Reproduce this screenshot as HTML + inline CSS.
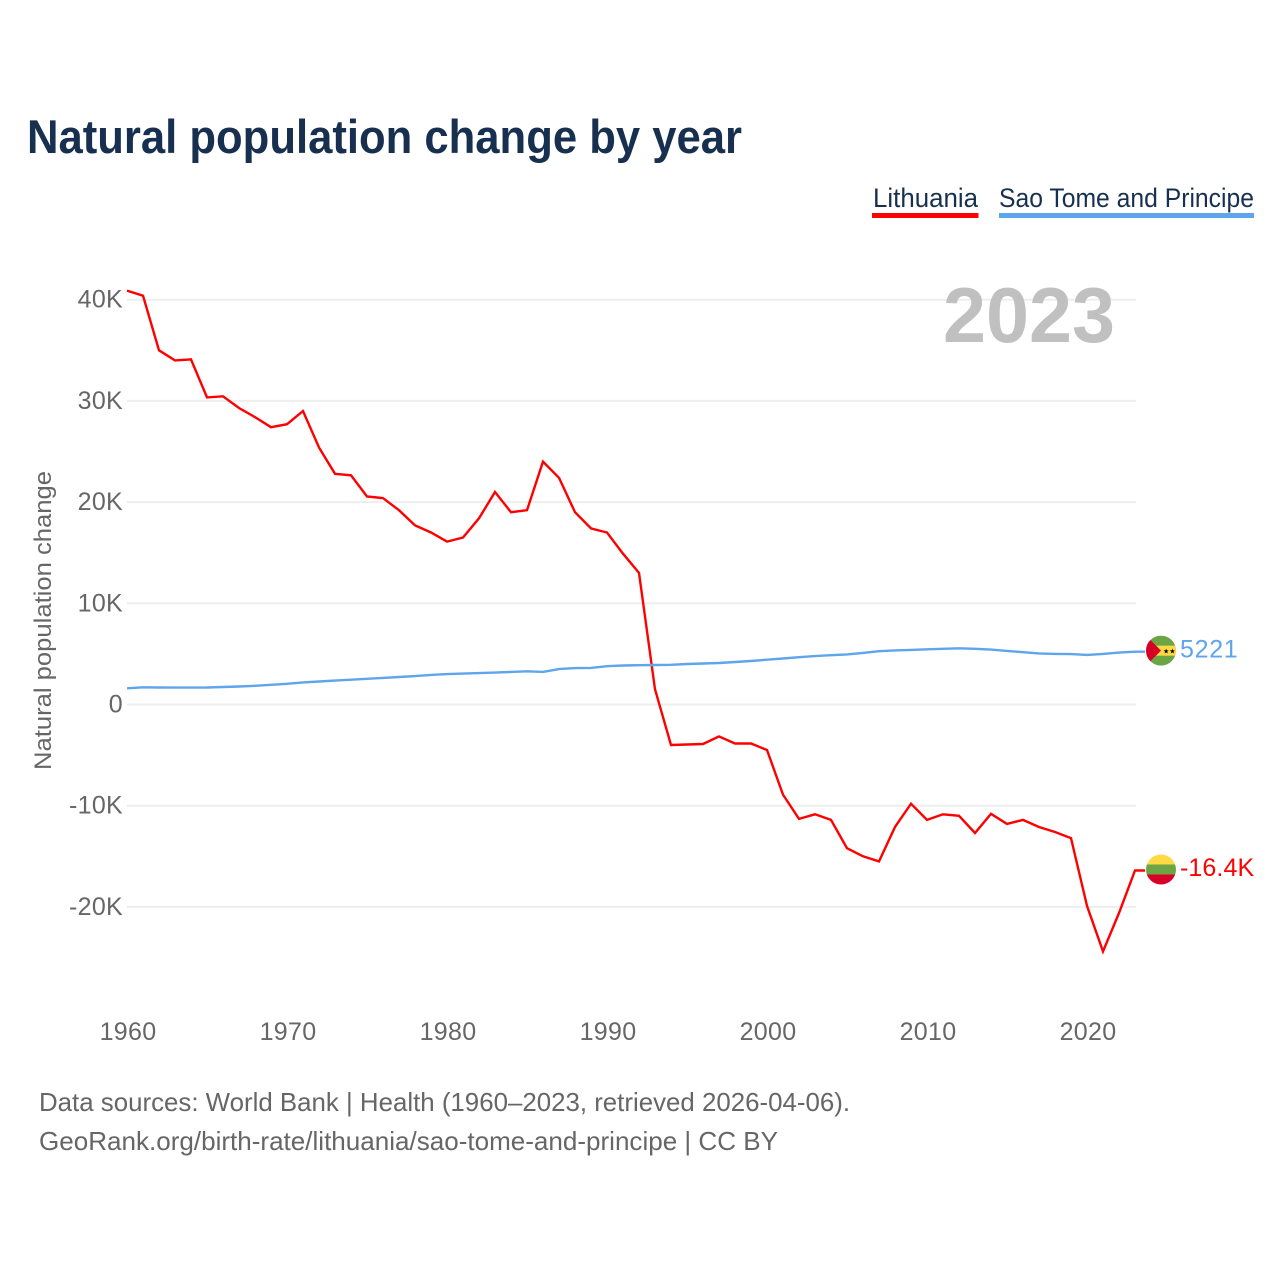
<!DOCTYPE html>
<html lang="en">
<head>
<meta charset="utf-8">
<title>Natural population change by year</title>
<style>
html,body{margin:0;padding:0;background:#fff;}
svg{display:block;font-family:"Liberation Sans",sans-serif;}
.tick{font-size:25px;fill:#666;letter-spacing:.3px;}
</style>
</head>
<body>
<svg id="chart" xmlns="http://www.w3.org/2000/svg" width="1280" height="1280" viewBox="0 0 1280 1280">
  <defs>
    <clipPath id="flag-clip"><circle cx="0" cy="0" r="15"></circle></clipPath>
  </defs>
  <rect x="0" y="0" width="1280" height="1280" fill="#fff"></rect>
  <text x="27" y="153" font-size="47" font-weight="700" fill="#18304f" textLength="715" lengthAdjust="spacingAndGlyphs">Natural population change by year</text>

  <g>
    <text x="873" y="207" font-size="27" fill="#18304f" textLength="105" lengthAdjust="spacingAndGlyphs">Lithuania</text>
    <rect x="872" y="213" width="106.500" height="5" fill="#ff0000"></rect>
  </g>
  <g>
    <text x="999" y="207" font-size="27" fill="#18304f" textLength="255" lengthAdjust="spacingAndGlyphs">Sao Tome and Principe</text>
    <rect x="999" y="213" width="255" height="5" fill="#5ea5ec"></rect>
  </g>

  <g id="grid"></g>
  <g id="y-ticks"></g>
  <g id="x-ticks"></g>

  <text x="1115" y="342" text-anchor="end" font-size="78" font-weight="700" fill="#c0c0c0" textLength="172" lengthAdjust="spacingAndGlyphs">2023</text>

  <text transform="translate(51 620.5) rotate(-90)" text-anchor="middle" font-size="24" fill="#666" textLength="299" lengthAdjust="spacingAndGlyphs">Natural population change</text>

  <g id="series"></g>

  <g id="flag-stp">
    <g clip-path="url(#flag-clip)">
      <rect x="-15" y="-15" width="30" height="30" fill="#6da544"></rect>
      <rect x="-15" y="-5" width="30" height="10" fill="#ffda44"></rect>
      <polygon points="-15,-15 -15,15 0,0" fill="#d80027"></polygon>
      <text x="2" y="3" font-size="7" fill="#000" font-family="DejaVu Sans, sans-serif">★★</text>
    </g>
  </g>
  <g id="flag-ltu">
    <g clip-path="url(#flag-clip)">
      <rect x="-15" y="-15" width="30" height="10" fill="#ffda44"></rect>
      <rect x="-15" y="-5" width="30" height="10" fill="#6da544"></rect>
      <rect x="-15" y="5" width="30" height="10" fill="#d80027"></rect>
    </g>
  </g>
  <g id="end-labels"></g>

  <text x="39" y="1111" font-size="26" fill="#666" textLength="811" lengthAdjust="spacingAndGlyphs">Data sources: World Bank | Health (1960–2023, retrieved 2026-04-06).</text>
  <text x="39" y="1150" font-size="26" fill="#666" textLength="739" lengthAdjust="spacingAndGlyphs">GeoRank.org/birth-rate/lithuania/sao-tome-and-principe | CC BY</text>
</svg>
<script>
const startYear = 1960;
const yTickValues = [40000, 30000, 20000, 10000, 0, -10000, -20000];
const yTickLabels = ['40K', '30K', '20K', '10K', '0', '-10K', '-20K'];
const xTickValues = [1960, 1970, 1980, 1990, 2000, 2010, 2020];
const xTickLabels = ['1960', '1970', '1980', '1990', '2000', '2010', '2020'];
const lithuaniaValues = [
  40900, 40400, 35000, 34000, 34100, 30350, 30450, 29300, 28400, 27400,
  27700, 29000, 25400, 22800, 22650, 20550, 20400, 19200, 17700, 17000,
  16100, 16500, 18400, 21000, 19000, 19200, 24000, 22400, 19000, 17400,
  17000, 14900, 13000, 1500, -4000, -3950, -3900, -3150, -3850, -3850,
  -4500, -8900, -11300, -10850, -11400, -14200, -15000, -15500, -12100, -9800,
  -11400, -10850, -11000, -12700, -10800, -11800, -11400, -12100, -12600, -13200,
  -19900, -24400, -20600, -16400
];
const saoTomeValues = [
  1600, 1700, 1680, 1670, 1670, 1680, 1730, 1780, 1850, 1950,
  2050, 2180, 2270, 2360, 2450, 2540, 2630, 2720, 2810, 2920,
  3000, 3050, 3100, 3150, 3220, 3280, 3220, 3500, 3600, 3620,
  3780, 3850, 3880, 3900, 3920, 4000, 4050, 4100, 4200, 4300,
  4430, 4550, 4670, 4780, 4870, 4950, 5100, 5270, 5350, 5400,
  5450, 5500, 5550, 5500, 5420, 5300, 5170, 5050, 5000, 4980,
  4900, 5000, 5130, 5221
];

const svgNS = 'http://www.w3.org/2000/svg';
function xScale(year) { return 127 + (year - 1960) * 16; }
function yScale(value) { return 704.5 - value * 0.01012; }
function formatValue(value) {
  if (Math.abs(value) >= 10000) return (value / 1000).toFixed(1) + 'K';
  return String(value);
}
function linePoints(values) {
  return values.map(function (v, i) { return xScale(startYear + i).toFixed(1) + ',' + yScale(v).toFixed(1); });
}

const grid = document.getElementById('grid');
const yTicks = document.getElementById('y-ticks');
yTickValues.forEach(function (value, i) {
  const line = document.createElementNS(svgNS, 'line');
  
  
  line.setAttribute('x1', 127);
  line.setAttribute('x2', 1136);
  line.setAttribute('y1', yScale(value));
  line.setAttribute('y2', yScale(value));
  line.setAttribute('stroke', '#eeeeee');
  line.setAttribute('stroke-width', 2);
  grid.appendChild(line);

  const label = document.createElementNS(svgNS, 'text');
  
  
  label.setAttribute('class', 'tick');
  label.setAttribute('x', 123);
  label.setAttribute('y', yScale(value) + 8);
  label.setAttribute('text-anchor', 'end');
  label.textContent = yTickLabels[i];
  yTicks.appendChild(label);
});

const xTicks = document.getElementById('x-ticks');
xTickValues.forEach(function (year, i) {
  const label = document.createElementNS(svgNS, 'text');
  
  
  label.setAttribute('class', 'tick');
  label.setAttribute('x', xScale(year) + 1);
  label.setAttribute('y', 1040);
  label.setAttribute('text-anchor', 'middle');
  label.textContent = xTickLabels[i];
  xTicks.appendChild(label);
});

const series = document.getElementById('series');

const lineLithuania = document.createElementNS(svgNS, 'polyline');


lineLithuania.setAttribute('points', linePoints(lithuaniaValues).join(' ') + ' 1145,' + yScale(lithuaniaValues[lithuaniaValues.length - 1]).toFixed(1));
lineLithuania.setAttribute('fill', 'none');
lineLithuania.setAttribute('stroke', '#ff0000');
lineLithuania.setAttribute('stroke-width', 2.4);
series.appendChild(lineLithuania);

const lineSaoTome = document.createElementNS(svgNS, 'polyline');


lineSaoTome.setAttribute('points', linePoints(saoTomeValues).join(' ') + ' 1145,' + yScale(saoTomeValues[saoTomeValues.length - 1]).toFixed(1));
lineSaoTome.setAttribute('fill', 'none');
lineSaoTome.setAttribute('stroke', '#5ea5ec');
lineSaoTome.setAttribute('stroke-width', 2.4);
series.appendChild(lineSaoTome);

const lastLt = lithuaniaValues[lithuaniaValues.length - 1];
const lastSt = saoTomeValues[saoTomeValues.length - 1];
document.getElementById('flag-ltu').setAttribute('transform', 'translate(1161 ' + (yScale(lastLt) - 1) + ')');
document.getElementById('flag-stp').setAttribute('transform', 'translate(1161 ' + (yScale(lastSt) - 1) + ')');

const endLabels = document.getElementById('end-labels');
const labelLt = document.createElementNS(svgNS, 'text');


labelLt.setAttribute('x', 1180);
labelLt.setAttribute('y', yScale(lastLt) + 5.5);
labelLt.setAttribute('font-size', 25);
labelLt.setAttribute('letter-spacing', '0.1');
labelLt.setAttribute('fill', '#ff0000');
labelLt.textContent = formatValue(lastLt);
endLabels.appendChild(labelLt);

const labelSt = document.createElementNS(svgNS, 'text');


labelSt.setAttribute('x', 1180);
labelSt.setAttribute('y', yScale(lastSt) + 6);
labelSt.setAttribute('font-size', 25);
labelSt.setAttribute('letter-spacing', '0.7');
labelSt.setAttribute('fill', '#5ea5ec');
labelSt.textContent = formatValue(lastSt);
endLabels.appendChild(labelSt);
</script>
</body>
</html>
